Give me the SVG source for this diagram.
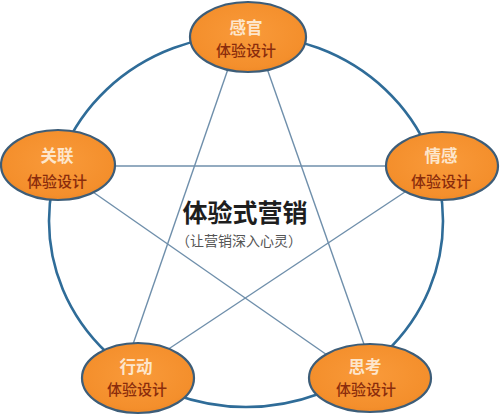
<svg xmlns="http://www.w3.org/2000/svg" width="500" height="415" viewBox="0 0 500 415">
  <defs>
    <radialGradient id="og" cx="50%" cy="45%" r="60%">
      <stop offset="0" stop-color="#f99a3a"/>
      <stop offset="0.8" stop-color="#f48f2c"/>
      <stop offset="1" stop-color="#ec8524"/>
    </radialGradient>
  </defs>
  <style>
    .ring { fill: none; stroke: #2f6c98; stroke-width: 2.6; }
    .star line { stroke: #6f8fab; stroke-width: 1.4; }
    .node ellipse { fill: url(#og); stroke: #3d5d78; stroke-width: 2.2; }
    .t1 { font-family: "Noto Sans CJK SC", sans-serif; font-size: 16.5px; font-weight: 700; fill: #fde6cc; text-anchor: middle; }
    .t2 { font-family: "Noto Sans CJK SC", sans-serif; font-size: 15px; font-weight: 500; fill: #8a2c0c; text-anchor: middle; }
    .c1 { font-family: "Noto Sans CJK SC", sans-serif; font-size: 25px; font-weight: 700; fill: #1e1e1e; text-anchor: middle; }
    .c2 { font-family: "Noto Sans CJK SC", sans-serif; font-size: 14px; font-weight: 400; fill: #555555; text-anchor: middle; }
  </style>
  <rect width="500" height="415" fill="#ffffff"/>
  <g id="connectors">
    <ellipse class="ring" cx="246" cy="221" rx="197" ry="186"/>
    <g class="star">
      <line x1="238" y1="40" x2="131" y2="350"/>
      <line x1="257" y1="40" x2="366" y2="350"/>
      <line x1="60" y1="166" x2="440" y2="166"/>
      <line x1="80" y1="183" x2="340" y2="364"/>
      <line x1="420" y1="182" x2="155" y2="358"/>
    </g>
  </g>
  <g id="center">
    <text class="c1" x="245" y="222">体验式营销</text>
    <text class="c2" x="239" y="246">（让营销深入心灵）</text>
  </g>
  <g id="node-top" class="node">
    <ellipse cx="248" cy="37" rx="58" ry="35"/>
    <text class="t1" x="246" y="34">感官</text>
    <text class="t2" x="246" y="56">体验设计</text>
  </g>
  <g id="node-left" class="node">
    <ellipse cx="58" cy="165" rx="57" ry="35"/>
    <text class="t1" x="57" y="162">关联</text>
    <text class="t2" x="57" y="187">体验设计</text>
  </g>
  <g id="node-right" class="node">
    <ellipse cx="442" cy="166" rx="56" ry="34"/>
    <text class="t1" x="441" y="162">情感</text>
    <text class="t2" x="441" y="187">体验设计</text>
  </g>
  <g id="node-bottom-left" class="node">
    <ellipse cx="138" cy="378" rx="56" ry="35"/>
    <text class="t1" x="136" y="373">行动</text>
    <text class="t2" x="137" y="395">体验设计</text>
  </g>
  <g id="node-bottom-right" class="node">
    <ellipse cx="370" cy="378" rx="61" ry="34"/>
    <text class="t1" x="365" y="373">思考</text>
    <text class="t2" x="366" y="395">体验设计</text>
  </g>
</svg>
